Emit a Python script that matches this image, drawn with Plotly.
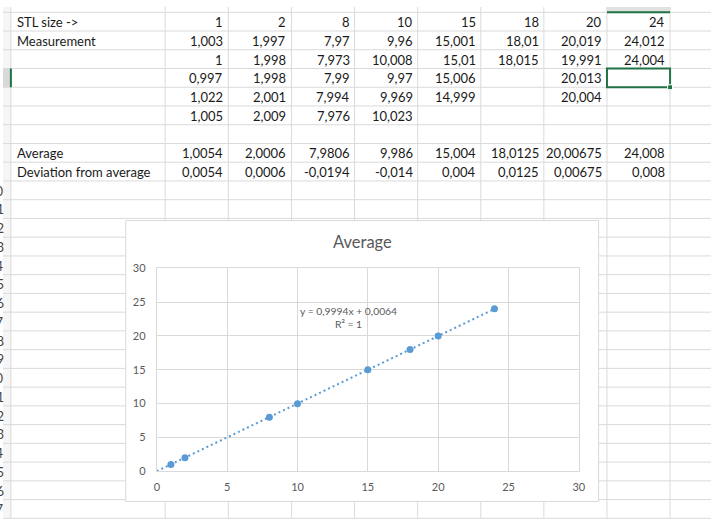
import plotly.graph_objects as go

W, H = 718, 524

# ---------------- data (read from the sheet) ----------------
stl_sizes = [1, 2, 8, 10, 15, 18, 20, 24]
measurements = [
    [1.003, 1, 0.997, 1.022, 1.005],
    [1.997, 1.998, 1.998, 2.001, 2.009],
    [7.97, 7.973, 7.99, 7.994, 7.976],
    [9.96, 10.008, 9.97, 9.969, 10.023],
    [15.001, 15.01, 15.006, 14.999],
    [18.01, 18.015],
    [20.019, 19.991, 20.013, 20.004],
    [24.012, 24.004],
]
averages = [1.0054, 2.0006, 7.9806, 9.986, 15.004, 18.0125, 20.00675, 24.008]
deviations = [0.0054, 0.0006, -0.0194, -0.014, 0.004, 0.0125, 0.00675, 0.008]
row_labels = ["STL size ->", "Measurement", "", "", "", "", "", "Average", "Deviation from average"]
trend_slope = 0.9994
trend_intercept = 0.0064
trend_r2 = 1
chart_title = "Average"
x_ticks = [0, 5, 10, 15, 20, 25, 30]
y_ticks = [0, 5, 10, 15, 20, 25, 30]

# ---------------- sheet geometry (pixels) ----------------
COL_EDGES = [8] + [164.5 + 64 * i for i in range(10)]
ROW_TOP0, ROW_H = 5.4, 19.22
N_ROWS = 28
BOX = (124.5, 219.0, 604.0, 507.0)  # chart object box x0, y0, x1, y1
GRID = "#dadada"
GREEN = "#217346"
TXT = "#1a1a1a"
FONT = "Lato"
CELL_FS = 13.0
SEL_COL = 8   # selected column spans COL_EDGES[8]..COL_EDGES[9]
SEL_ROW = 3   # selected row spans row_edges[3]..row_edges[4]


def px(x):
    return x / W


def py(y):
    return 1 - y / H


def fmt(v):
    return f"{v:.10g}".replace(".", ",")


shapes = []


def line(x0, y0, x1, y1, color=GRID, width=1):
    shapes.append(dict(type="line", xref="paper", yref="paper", layer="below",
                       x0=px(x0), y0=py(y0), x1=px(x1), y1=py(y1),
                       line=dict(color=color, width=width)))


def rect(x0, y0, x1, y1, fill, color=None, width=0, layer="below"):
    shapes.append(dict(type="rect", xref="paper", yref="paper", layer=layer,
                       x0=px(x0), y0=py(y0), x1=px(x1), y1=py(y1),
                       fillcolor=fill,
                       line=dict(color=color or fill, width=width)))


row_edges = [ROW_TOP0 + ROW_H * k for k in range(N_ROWS)]

# row header strip and highlighted header cells
rect(0, 0, 8, H, "#f6f6f6")
rect(0, row_edges[SEL_ROW], 8, row_edges[SEL_ROW + 1], "#d9d9d9")
rect(COL_EDGES[SEL_COL], 0, COL_EDGES[SEL_COL + 1], ROW_TOP0, "#e1e1e1")

# horizontal grid lines (interrupted by the chart object)
for y in row_edges:
    if BOX[1] < y < BOX[3]:
        line(0, y, BOX[0], y)
        line(BOX[2], y, W, y)
    else:
        line(0, y, W, y)
# vertical grid lines
for x in COL_EDGES:
    if BOX[0] < x < BOX[2]:
        line(x, 0, x, BOX[1])
        line(x, BOX[3], x, H)
    else:
        line(x, 0, x, H)

# chart object box
rect(BOX[0], BOX[1], BOX[2], BOX[3], "white", color="#d9d9d9", width=1)

# selection highlights
line(8, row_edges[SEL_ROW], 8, row_edges[SEL_ROW + 1], GREEN, 2)
line(COL_EDGES[SEL_COL], ROW_TOP0, COL_EDGES[SEL_COL + 1], ROW_TOP0, GREEN, 2)
rect(COL_EDGES[SEL_COL], row_edges[SEL_ROW], COL_EDGES[SEL_COL + 1], row_edges[SEL_ROW + 1],
     "rgba(0,0,0,0)", color=GREEN, width=2, layer="above")
rect(COL_EDGES[SEL_COL + 1] - 2.5, row_edges[SEL_ROW + 1] - 2.5,
     COL_EDGES[SEL_COL + 1] + 2.5, row_edges[SEL_ROW + 1] + 2.5,
     GREEN, color="white", width=1, layer="above")

annotations = []


def cell_text(text, x, k, anchor):
    yc = row_edges[k] + ROW_H / 2 + 0.4
    annotations.append(dict(text=text, x=px(x), y=py(yc), xref="paper", yref="paper",
                            xanchor=anchor, yanchor="middle", showarrow=False,
                            font=dict(family=FONT, size=CELL_FS, color=TXT)))


for k, lab in enumerate(row_labels):
    if lab:
        cell_text(lab, COL_EDGES[0] + 4, k, "left")

for j, size in enumerate(stl_sizes):
    xr = COL_EDGES[j + 2] - 3
    cell_text(fmt(size), xr, 0, "right")
    for i, m in enumerate(measurements[j]):
        cell_text(fmt(m), xr, 1 + i, "right")
    cell_text(fmt(averages[j]), xr, 7, "right")
    cell_text(fmt(deviations[j]), xr, 8, "right")

# row numbers of the row header (mostly cut off at the left edge)
for k in range(9, N_ROWS - 1):
    yc = row_edges[k] + ROW_H / 2 + 0.4
    annotations.append(dict(text=str(k + 1), x=px(3), y=py(yc), xref="paper", yref="paper",
                            xanchor="right", yanchor="middle", showarrow=False,
                            font=dict(family=FONT, size=CELL_FS, color="#444444")))

# chart title
annotations.append(dict(text=chart_title, x=px((BOX[0] + BOX[2]) / 2), y=py(241), xref="paper", yref="paper",
                        xanchor="center", yanchor="middle", showarrow=False,
                        font=dict(family=FONT, size=16.5, color="#595959")))
# trendline label
annotations.append(dict(text=f"y = {fmt(trend_slope)}x + {fmt(trend_intercept)}<br>R² = {trend_r2}",
                        x=13.6, y=22.7, xref="x", yref="y", xanchor="center", yanchor="middle",
                        showarrow=False, align="center",
                        font=dict(family=FONT, size=10.3, color="#595959")))

fig = go.Figure()
trend_x = [0, stl_sizes[-1]]
trend_y = [trend_slope * v + trend_intercept for v in trend_x]
fig.add_trace(go.Scatter(x=trend_x, y=trend_y, mode="lines",
                         line=dict(color="#5b9bd5", width=2, dash="2px,3px"),
                         hoverinfo="skip", showlegend=False))
fig.add_trace(go.Scatter(x=stl_sizes, y=averages, mode="markers",
                         marker=dict(color="#5b9bd5", size=7),
                         showlegend=False))

axis_common = dict(showgrid=True, gridcolor="#d9d9d9", gridwidth=1, zeroline=False,
                   showline=True, mirror=True, linecolor="#d9d9d9", linewidth=1,
                   ticks="", tickfont=dict(family=FONT, size=11, color="#595959"))
fig.update_layout(
    width=W, height=H,
    margin=dict(l=0, r=0, t=0, b=0),
    paper_bgcolor="white", plot_bgcolor="white",
    showlegend=False,
    xaxis=dict(domain=[px(156), px(584)], range=[0, 30], tickvals=x_ticks,
               ticklabelstandoff=6, **axis_common),
    yaxis=dict(domain=[py(476), py(268)], range=[0, 30], tickvals=y_ticks,
               ticklabelstandoff=8, **axis_common),
    shapes=shapes,
    annotations=annotations,
)

fig.write_html("out.html", config={"displayModeBar": False})
